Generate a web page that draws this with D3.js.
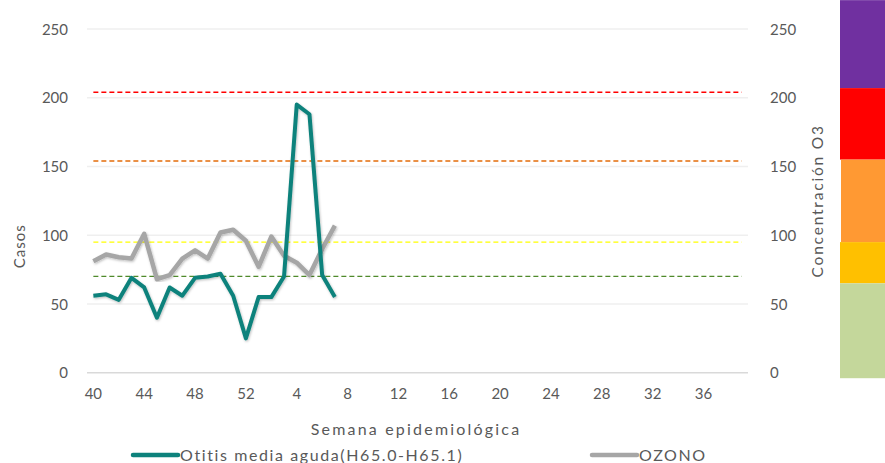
<!DOCTYPE html>
<html>
<head>
<meta charset="utf-8">
<script src="https://cdn.jsdelivr.net/npm/d3@7"></script>
<style>
  html, body { margin: 0; padding: 0; background: #ffffff; }
  svg { display: block; }
  text { font-family: Lato, "Open Sans", sans-serif; fill: #595959; }
</style>
</head>
<body>
<svg id="chart" width="885" height="463"></svg>
<script>
// Epidemiological weeks: 40-52 of the first year, 1-39 of the next
const weeks = d3.range(40, 53).concat(d3.range(1, 40));

// Weekly cases of acute otitis media (weeks 40 .. 7)
const otitis = [56, 57, 53, 69, 62, 40, 62, 56, 69, 70, 72, 56, 25, 55, 55, 70, 195, 188, 71, 55];

// Weekly ozone concentration (weeks 40 .. 7)
const ozono = [81, 86, 84, 83, 101, 68, 71, 83, 89, 83, 102, 104, 96, 77, 99, 85, 80, 71, 90, 107];

// Reference thresholds for ozone, drawn over every week
const thresholds = [
  { value: 204, color: "#FF0000" },
  { value: 154, color: "#E46C0A" },
  { value: 95,  color: "#FFFF00" },
  { value: 70,  color: "#4F8A2B" }
];

// Air quality colour scale on the right edge (upper and lower value of each band)
const bandEdges = [271, 207, 155, 95, 65, -4];
const bandColors = ["#7030A0", "#FF0000", "#FF9933", "#FFC000", "#C4D79B"];

const yTicks = [0, 50, 100, 150, 200, 250];
const xTickLabels = [40, 44, 48, 52, 4, 8, 12, 16, 20, 24, 28, 32, 36];

const legendItems = [
  { name: "Otitis media aguda(H65.0-H65.1)", color: "#0E827C" },
  { name: "OZONO", color: "#A6A6A6" }
];

const svg = d3.select("#chart");
const plotLeft = 87, plotRight = 748, plotTop = 29, plotBottom = 372.7;

const x = d3.scaleBand().domain(d3.range(weeks.length)).range([plotLeft, plotRight]).padding(0);
const cx = i => x(i) + x.bandwidth() / 2;
const y = d3.scaleLinear().domain([0, 250]).range([plotBottom, plotTop]);

// soft shadow used on the series lines
const defs = svg.append("defs");
const f = defs.append("filter").attr("id", "shadow").attr("x", "-5%").attr("y", "-5%").attr("width", "110%").attr("height", "110%");
f.append("feDropShadow").attr("dx", 0.8).attr("dy", 1.2).attr("stdDeviation", 1.2)
  .attr("flood-color", "#000").attr("flood-opacity", 0.25);

// colour scale strip
svg.append("g").selectAll("rect").data(bandColors).join("rect")
  .attr("x", (d, i) => i === 2 ? 841 : 840)
  .attr("width", 45)
  .attr("y", (d, i) => y(bandEdges[i]))
  .attr("height", (d, i) => y(bandEdges[i + 1]) - y(bandEdges[i]))
  .attr("fill", d => d);

// horizontal gridlines
svg.append("g").selectAll("line").data(yTicks).join("line")
  .attr("x1", plotLeft).attr("x2", plotRight)
  .attr("y1", d => y(d)).attr("y2", d => y(d))
  .attr("stroke", d => d === 0 ? "#D9D9D9" : "#EFEFEF")
  .attr("stroke-width", 1.5);

// left axis
const yAxisL = svg.append("g").attr("transform", `translate(${plotLeft - 19},0)`)
  .call(d3.axisLeft(y).tickValues(yTicks).tickSize(0).tickPadding(0));
yAxisL.select(".domain").remove();
yAxisL.selectAll("text").style("font-size", "15px").attr("dy", "0.35em")
  .style("font-family", "Lato, 'Open Sans', sans-serif").attr("fill", "#595959");

// right axis
const yAxisR = svg.append("g").attr("transform", `translate(${plotRight + 22},0)`)
  .call(d3.axisRight(y).tickValues(yTicks).tickSize(0).tickPadding(0));
yAxisR.select(".domain").remove();
yAxisR.selectAll("text").style("font-size", "15px").attr("dy", "0.35em")
  .style("font-family", "Lato, 'Open Sans', sans-serif").attr("fill", "#595959");

// bottom axis
const xAxis = svg.append("g").attr("transform", `translate(0,${plotBottom + 26})`)
  .call(d3.axisBottom(x).tickSize(0).tickPadding(0)
    .tickValues(d3.range(weeks.length).filter(i => xTickLabels.includes(weeks[i]) && i % 4 === 0))
    .tickFormat(i => weeks[i]));
xAxis.select(".domain").remove();
xAxis.selectAll("text").style("font-size", "15px").attr("dy", "0")
  .style("font-family", "Lato, 'Open Sans', sans-serif").attr("fill", "#595959");

// axis titles
svg.append("text").attr("transform", `translate(25,${y(92)}) rotate(-90)`)
  .attr("text-anchor", "middle").style("font-size", "15px").style("letter-spacing", "1px").text("Casos");
svg.append("text").attr("transform", `translate(823,${y(125)}) rotate(-90)`)
  .attr("text-anchor", "middle").style("font-size", "15.5px").style("letter-spacing", "1.8px").text("Concentración O3");
svg.append("text").attr("x", 416).attr("y", 435)
  .attr("text-anchor", "middle").style("font-size", "16px").style("letter-spacing", "2.2px").text("Semana epidemiológica");

// threshold lines
svg.append("g").selectAll("line").data(thresholds).join("line")
  .attr("x1", cx(0)).attr("x2", cx(weeks.length - 1))
  .attr("y1", d => y(d.value)).attr("y2", d => y(d.value))
  .attr("stroke", d => d.color).attr("stroke-width", 1.3)
  .attr("stroke-dasharray", "5,3");

// series lines
const line = d3.line().x((d, i) => cx(i)).y(d => y(d));
svg.append("path").datum(ozono)
  .attr("d", line).attr("fill", "none")
  .attr("stroke", legendItems[1].color).attr("stroke-width", 4.5)
  .attr("stroke-linejoin", "round").attr("filter", "url(#shadow)");
svg.append("path").datum(otitis)
  .attr("d", line).attr("fill", "none")
  .attr("stroke", legendItems[0].color).attr("stroke-width", 4)
  .attr("stroke-linejoin", "round").attr("filter", "url(#shadow)");

// legend
const legendPos = [133, 592];
const lg = svg.append("g").selectAll("g").data(legendItems).join("g")
  .attr("transform", (d, i) => `translate(${legendPos[i]},455)`);
lg.append("line").attr("x1", 0).attr("x2", 45).attr("y1", 0).attr("y2", 0)
  .attr("stroke", d => d.color).attr("stroke-width", 4.5).attr("stroke-linecap", "round");
lg.append("text").attr("x", 47).attr("y", 6).style("font-size", "16px").style("letter-spacing", "1.6px").text(d => d.name);
</script>
</body>
</html>
